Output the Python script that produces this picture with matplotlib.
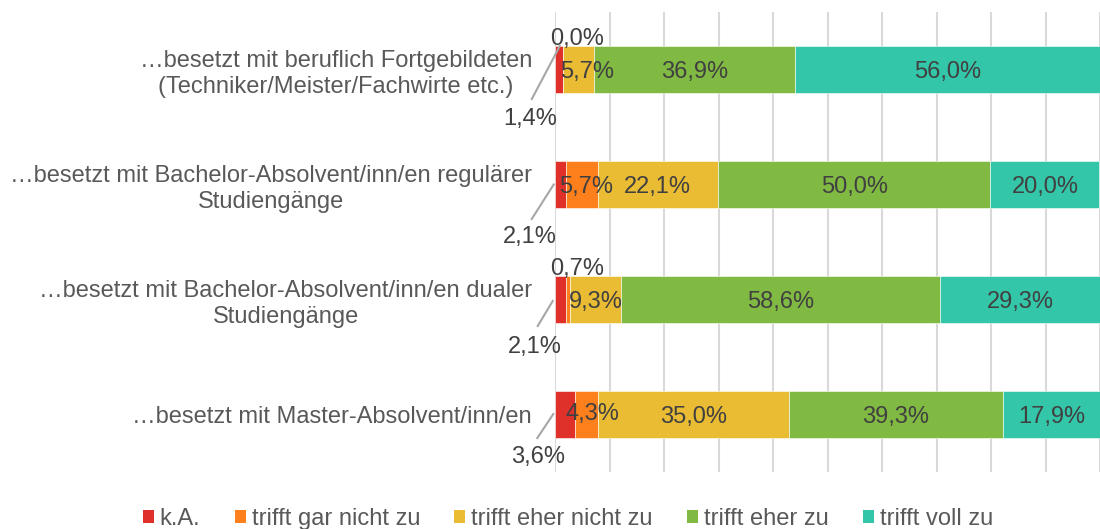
import matplotlib
matplotlib.use('Agg')
import matplotlib.pyplot as plt
from matplotlib.patches import Patch
from matplotlib.lines import Line2D
import numpy as np

plt.rcParams['font.family'] = ['Liberation Sans', 'DejaVu Sans']

# ---------------- data ----------------
categories = [
    "…besetzt mit beruflich Fortgebildeten\n(Techniker/Meister/Fachwirte etc.)",
    "…besetzt mit Bachelor-Absolvent/inn/en regulärer\nStudiengänge",
    "…besetzt mit Bachelor-Absolvent/inn/en dualer\nStudiengänge",
    "…besetzt mit Master-Absolvent/inn/en",
]
series_names = ["k.A.", "trifft gar nicht zu", "trifft eher nicht zu",
                "trifft eher zu", "trifft voll zu"]
ka = [1.4, 2.1, 2.1, 3.6]
gar_nicht = [0.0, 5.7, 0.7, 4.3]
eher_nicht = [5.7, 22.1, 9.3, 35.0]
eher_zu = [36.9, 50.0, 58.6, 39.3]
voll_zu = [56.0, 20.0, 29.3, 17.9]

colors = ['#E0302A', '#FD801C', '#E9BC34', '#80BA42', '#33C6A8']

FS = 17
LABEL_C = '#404040'
CAT_C = '#595959'

fig = plt.figure(figsize=(11.0, 5.29), dpi=100)
ax = fig.add_axes([555 / 1100, 1 - 472 / 529, 545 / 1100, 460 / 529])

values = [ka, gar_nicht, eher_nicht, eher_zu, voll_zu]
ypos = np.arange(len(categories))
ax.set_xlim(0, 1)
ax.set_ylim(len(categories) - 0.5, -0.5)

# label placement tweaks (pixel offsets): (series, row) -> (dx, dy)
shift = {(1, 0): (14, -32.5), (1, 2): (9, -33), (2, 0): (9, 0),
         (1, 1): (4, 0), (1, 3): (6, -3)}
# leader labels for k.A.: row -> (label dx,dy, line start dx,dy, line end dx,dy)
leader = {0: ((-29, 47), (1, -23.5), (-27, 29.5)),
          1: ((-31, 50.5), (-7, 0), (-29, 34.5)),
          2: ((-26, 44.5), (-8, 1.5), (-23, 26.5)),
          3: ((-27, 40.5), (-11.5, -0.5), (-27.5, 23.5))}

left = np.zeros(len(categories))
segs = []
for si, (name, vals, c) in enumerate(zip(series_names, values, colors)):
    v = np.array(vals) / 100.0
    ax.barh(ypos, v, left=left, height=0.41, color=c, edgecolor='white',
            linewidth=0.4, label=name, zorder=3)
    for ri in range(len(categories)):
        segs.append((si, ri, left[ri] + v[ri] / 2, vals[ri]))
    left = left + v

ax.set_xticks(np.arange(0, 1.01, 0.1))
ax.xaxis.grid(True, color='#D9D9D9', linewidth=1.5, zorder=0)
ax.tick_params(axis='x', length=0, labelbottom=False)
ax.tick_params(axis='y', length=0, pad=16.5)
ax.set_yticks(ypos)
ax.set_yticklabels(categories, fontsize=FS, color=CAT_C, multialignment='center',
                   linespacing=1.25)
for s in ax.spines.values():
    s.set_visible(False)

fig.canvas.draw()
inv = fig.transFigure.inverted()
for si, ri, xc, val in segs:
    txt = f"{val:.1f}%".replace('.', ',')
    if si == 0:
        (lx, ly), (sx, sy), (ex, ey) = leader[ri]
        ax.annotate(txt, xy=(xc, ri), xytext=(lx, -ly), textcoords='offset pixels',
                    ha='center', va='center_baseline', fontsize=FS, color=LABEL_C,
                    zorder=5)
        p = ax.transData.transform((xc, ri))
        pts = np.array([[p[0] + sx, p[1] - sy], [p[0] + ex, p[1] - ey]])
        fp = inv.transform(pts)
        fig.add_artist(Line2D(fp[:, 0], fp[:, 1], transform=fig.transFigure,
                              color='#A6A6A6', linewidth=1.5, zorder=4))
    else:
        dx, dy = shift.get((si, ri), (0, 0))
        ax.annotate(txt, xy=(xc, ri), xytext=(dx, -dy), textcoords='offset pixels',
                    ha='center', va='center_baseline', fontsize=FS, color=LABEL_C,
                    zorder=5)

handles = [Patch(facecolor=c, edgecolor='none', label=n) for n, c in zip(series_names, colors)]
fig.legend(handles=handles, loc='center', bbox_to_anchor=(568 / 1100, 1 - 519 / 529),
           ncol=5, frameon=False, handlelength=0.47, handleheight=0.47,
           handletextpad=0.25, columnspacing=1.45, fontsize=FS, labelcolor=CAT_C,
           borderpad=0.2)

fig.savefig('out.png', dpi=100)
